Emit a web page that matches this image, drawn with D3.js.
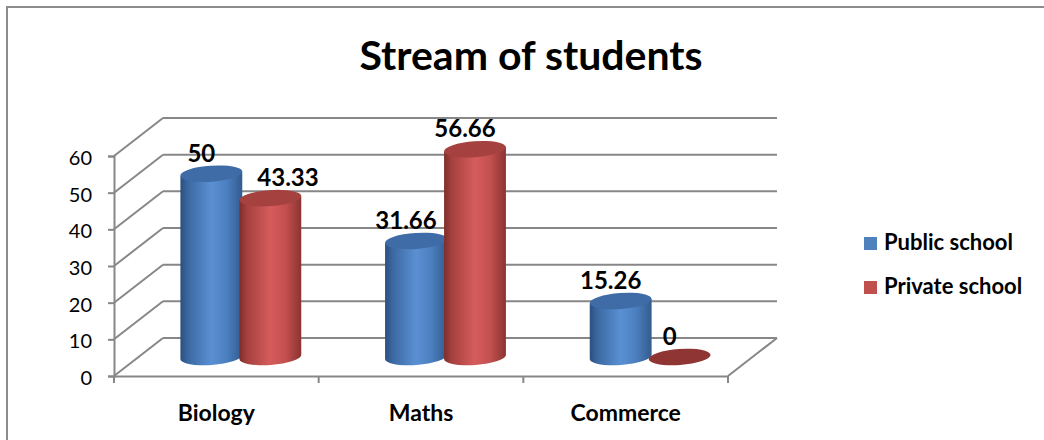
<!DOCTYPE html>
<html>
<head>
<meta charset="utf-8">
<script src="https://cdn.jsdelivr.net/npm/d3@7"></script>
<style>
  body { margin: 0; background: #fff; }
  text { font-family: Lato, "Open Sans", sans-serif; fill: #000; }
</style>
</head>
<body>
<svg id="chart"></svg>
<script>
// Chart data.
const categories = ["Biology", "Maths", "Commerce"]
const seriesNames = ["Public school", "Private school"]
const publicSchool = [50, 31.66, 15.26]
const privateSchool = [43.33, 56.66, 0]
const yTicks = [0, 10, 20, 30, 40, 50, 60]
const title = "Stream of students"

const WIDTH = 1044
const HEIGHT = 440

// Front plane of the 3D box and depth offset of its back wall.
const FRONT_LEFT = 114
const FRONT_RIGHT = 728
const FRONT_BOTTOM = 376
const FRONT_TOP = 156
const DEPTH_X = 49
const DEPTH_Y = -38

const RX = 31 // cylinder radius
const RY = 8 // flattened ellipse
const TILT = -4 // degrees

const GRID = "#878787"

const colors = {
  "Public school": { legend: "#4f81bd", top: "#3f6ca6", stops: ["#2b4f7f", "#3b68a1", "#5a90d3", "#4b7fbf", "#335b8e"] },
  "Private school": { legend: "#c0504d", top: "#a5413f", stops: ["#7d2e2c", "#a5403e", "#d65c5c", "#c34f4e", "#8a3432"] },
}

const svg = d3.select("#chart").attr("width", WIDTH).attr("height", HEIGHT)

// Outer frame
svg.append("rect")
  .attr("x", 7).attr("y", 7)
  .attr("width", WIDTH + 20).attr("height", HEIGHT + 20)
  .attr("fill", "none").attr("stroke", "#8c8c8c").attr("stroke-width", 2)

svg.append("text")
  .attr("x", 531).attr("y", 70)
  .attr("text-anchor", "middle")
  .attr("font-size", 41).attr("font-weight", "bold")
  .text(title)

const x = d3.scaleBand().domain(categories).range([FRONT_LEFT, FRONT_RIGHT])
const y = d3.scaleLinear().domain([0, 60]).range([FRONT_BOTTOM, FRONT_TOP])
const sub = d3.scaleBand().domain(seriesNames).range([-59, 59])

// Walls and gridlines
const grid = svg.append("g").attr("stroke", GRID).attr("stroke-width", 2).attr("fill", "none")

grid.selectAll(".back")
  .data(yTicks)
  .join("line")
  .attr("x1", FRONT_LEFT + DEPTH_X).attr("x2", FRONT_RIGHT + DEPTH_X)
  .attr("y1", (d) => y(d) + DEPTH_Y).attr("y2", (d) => y(d) + DEPTH_Y)

grid.selectAll(".side")
  .data(yTicks)
  .join("line")
  .attr("x1", FRONT_LEFT).attr("x2", FRONT_LEFT + DEPTH_X)
  .attr("y1", (d) => y(d)).attr("y2", (d) => y(d) + DEPTH_Y)

// floor: right edge
grid.append("line")
  .attr("x1", FRONT_RIGHT).attr("y1", y(0))
  .attr("x2", FRONT_RIGHT + DEPTH_X).attr("y2", y(0) + DEPTH_Y)

// value axis
const yAxis = svg.append("g")
  .attr("transform", `translate(${FRONT_LEFT},0)`)
  .call(d3.axisLeft(y).tickValues(yTicks).tickSize(6).tickPadding(16))
yAxis.select(".domain").attr("stroke", GRID).attr("stroke-width", 2)
yAxis.selectAll(".tick line").attr("stroke", GRID).attr("stroke-width", 2)
yAxis.selectAll(".tick text")
  .attr("font-size", 20).attr("font-family", "Lato, 'Open Sans', sans-serif")
  .attr("fill", "#000").attr("dy", "0.42em")

// category axis
const xAxis = svg.append("g")
  .attr("transform", `translate(0,${FRONT_BOTTOM})`)
  .call(d3.axisBottom(x).tickSize(0).tickPadding(29))
xAxis.select(".domain").attr("stroke", GRID).attr("stroke-width", 2)
xAxis.selectAll(".tick text")
  .attr("font-size", 23).attr("font-weight", "bold")
  .attr("font-family", "Lato, 'Open Sans', sans-serif").attr("fill", "#000")

svg.append("g").attr("stroke", GRID).attr("stroke-width", 2)
  .selectAll("line")
  .data(categories.concat([null]))
  .join("line")
  .attr("x1", (d) => (d ? x(d) : FRONT_RIGHT)).attr("x2", (d) => (d ? x(d) : FRONT_RIGHT))
  .attr("y1", FRONT_BOTTOM).attr("y2", FRONT_BOTTOM + 7)

// Gradients for the cylinder sides
const defs = svg.append("defs")
seriesNames.forEach((s, i) => {
  const g = defs.append("linearGradient").attr("id", "grad" + i)
    .attr("x1", 0).attr("x2", 1).attr("y1", 0).attr("y2", 0)
  const offs = [0, 0.12, 0.5, 0.75, 1]
  colors[s].stops.forEach((c, j) => g.append("stop").attr("offset", offs[j]).attr("stop-color", c))
})

// Cylinder data
const bars = []
categories.forEach((c, i) => {
  ;[publicSchool, privateSchool].forEach((vals, k) => {
    bars.push({ category: c, series: seriesNames[k], idx: k, value: vals[i] })
  })
})

const cx = (d) => x(d.category) + x.bandwidth() / 2 + DEPTH_X / 2 + sub(d.series) + sub.bandwidth() / 2
const base = (d) => y(0) + DEPTH_Y / 2
const topY = (d) => y(d.value) + DEPTH_Y / 2

const ca = Math.cos((TILT * Math.PI) / 180) * RX
const sa = Math.sin((TILT * Math.PI) / 180) * RX

function sidePath(d) {
  const c = cx(d), t = topY(d), b = base(d)
  return `M${c - ca},${t - sa} L${c - ca},${b - sa} A${RX},${RY} ${TILT} 0 0 ${c + ca},${b + sa} L${c + ca},${t + sa} Z`
}

const cyl = svg.append("g").selectAll("g").data(bars).join("g")

cyl.filter((d) => d.value > 0)
  .append("path")
  .attr("d", sidePath)
  .attr("fill", (d) => `url(#grad${d.idx})`)

cyl.append("ellipse")
  .attr("cx", cx).attr("cy", topY)
  .attr("rx", RX).attr("ry", RY)
  .attr("transform", (d) => `rotate(${TILT},${cx(d)},${topY(d)})`)
  .attr("fill", (d) => (d.value > 0 ? colors[d.series].top : "#8f3634"))

// Value labels
const labels = svg.append("g").selectAll("text").data(bars).join("text")
  .attr("x", (d) => cx(d) - 10)
  .attr("y", (d) => topY(d) - 12)
  .attr("text-anchor", "middle")
  .attr("font-size", 24).attr("font-weight", "bold")
  .text((d) => d3.format("")(d.value))

// Push a label to the right when it would sit on the cylinder to its left
labels.each(function (d, i) {
  if (d.idx === 0) return
  const left = bars[i - 1]
  const box = this.getBBox()
  const leftEdge = cx(left) + RX
  const leftTop = topY(left) - RY
  if (box.x < leftEdge && box.y + box.height > leftTop) {
    d3.select(this).attr("x", leftEdge + 15 + box.width / 2)
  }
})

// Legend
const legend = svg.append("g").selectAll("g").data(seriesNames).join("g")
  .attr("transform", (d, i) => `translate(864,${237 + i * 44})`)
legend.append("rect").attr("width", 13).attr("height", 13).attr("fill", (d) => colors[d].legend)
legend.append("text").attr("x", 20).attr("y", 13)
  .attr("font-size", 22).attr("font-weight", "bold").text((d) => d)
</script>
</body>
</html>
